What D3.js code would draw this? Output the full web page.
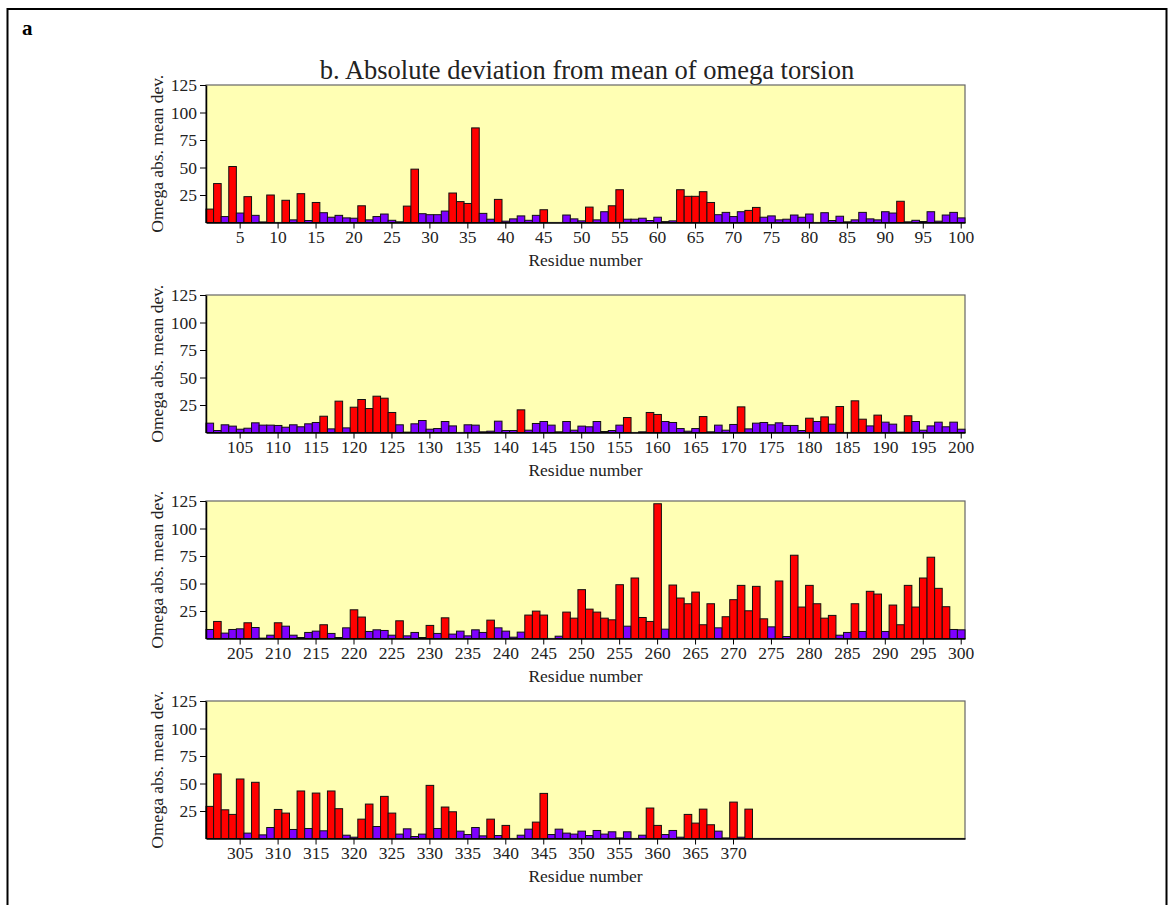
<!DOCTYPE html>
<html><head><meta charset="utf-8">
<script src="https://cdn.jsdelivr.net/npm/d3@7"></script>
<style>body{margin:0;background:#fff}svg text{font-family:"Liberation Serif","Times New Roman",serif}</style>
</head><body><svg id="c" width="1174" height="905"></svg>
<script>
// ---- data ----
const panelStarts = [1, 101, 201, 301];
const omega001to100 = [12.2,35.4,5.4,50.9,8.6,23.5,6.5,0.5,25,0,20.2,2.4,26.2,1.8,18.2,8.9,4.8,6.5,4.2,3.9,
 15.2,2.4,5.4,7.7,2,0.6,14.9,48.5,8,7.1,7.1,10.4,26.8,19,17.3,86,8.3,3,21,1.2,
 3.3,6,2,6.5,11.6,0,0,6.8,3.3,1.5,14,2.4,9.8,15.2,29.8,3,3,3.9,1.8,4.8,
 0.8,1.5,29.8,23.8,23.8,28,18.2,7.1,9.2,5.4,9.8,11,13.7,4.8,6,2.4,3,6.8,4.8,7.7,
 0,8.9,1.8,5.7,0.6,2.4,9.2,3.3,2.4,9.8,8.6,19.3,0.6,2,0.9,9.8,1.2,6.8,9.2,4.2];
const omega101to200 = [8.5,1.8,7,5.8,3,3.9,8.8,6.7,6.7,6.4,4.8,7,5.2,7.9,9.1,14.8,3.3,28.5,4.2,23,
 30,21.8,33,31.2,18.2,7,0.3,7.9,10.9,3,3.6,10,6,0,7,6.7,0.6,1.2,10.3,1.8,
 1.8,20.6,2.1,8.2,10,6.7,0.6,10,2.1,5.8,5.2,10,0.9,1.8,6.7,13.6,0,0.6,18.2,16.4,
 10,9.1,3.6,1.2,3.6,14.5,0.6,6.7,2.1,7.3,23.3,3.3,8.5,9.1,7,8.8,6.4,6.4,1.8,13,
 10,14.2,7.6,23.6,0,28.8,12.1,6,15.8,9.4,7.6,0.3,15.2,10,2.1,6,9.4,5.2,9.4,3];
const omega201to300 = [8.2,15.5,4.9,8.2,8.8,14.3,10,0.3,3,14.3,11.2,3,0.9,5.5,6.7,12.5,4.6,0.9,9.7,26.1,
 19.5,6.4,7.9,7.3,3,16.1,2.4,5.5,0.9,11.9,4.6,18.8,4,6.7,2.4,7.9,5.5,16.7,9.7,6.7,
 1.2,5.8,21.3,24.9,21.3,0,2.1,24,18.5,44.4,26.7,24,18.5,17,48.9,11.2,55,19.1,15.5,122.5,
 8.5,48.6,36.8,31.6,42.2,12.5,31.6,9.7,19.8,35.3,48.3,25.2,47.4,17.9,10.6,52.3,1.8,75.7,28.6,48.3,
 31.6,18.5,21,3,5.5,31.6,6.4,42.9,40.4,6.4,30.4,12.5,48.3,28.6,55,73.9,45.6,28.9,8.2,7.9];
const omega301to372 = [29.2,58.7,26.1,21.9,54.1,4.9,51.1,3.3,10,26.4,23.1,8.2,43.2,9.1,41.3,7,43.2,27.1,3,1.2,
 17.6,31.3,10.9,38.3,23.1,4,8.8,1.8,4,48.3,9.1,28.6,24.3,6.7,3.6,10,2.4,17.6,2.7,11.9,
 0,3,8.5,14.9,41,3.6,8.5,4.9,4,6.7,2.7,7.3,4,6.1,0.5,6.1,0,3,27.7,11.9,
 3.6,7.3,1.2,21.9,14,26.7,12.5,6.7,0.5,33.1,1.2,26.7];
const redResidues = [1,2,4,6,9,11,13,15,21,27,28,33,34,35,36,39,45,51,54,55,63,64,65,66,67,72,73,92,
 116,118,120,121,122,123,124,125,142,156,159,160,166,171,180,182,184,186,187,189,193,
 202,206,210,216,220,221,226,230,232,238,243,244,245,248,249,250,251,252,253,254,255,257,258,259,260,
 262,263,264,265,266,267,269,270,271,272,273,274,276,278,279,280,281,282,283,286,288,289,291,292,293,294,295,296,297,298,
 301,302,303,304,305,307,310,311,313,315,317,318,321,322,324,325,330,332,333,338,340,344,345,359,360,364,365,366,367,370,372];
const yTicks = [25, 50, 75, 100, 125];
const lastTickResidue = [100, 200, 300, 370];
const titleText = "b. Absolute deviation from mean of omega torsion";
const yLabel = "Omega abs. mean dev.";
const xLabel = "Residue number";

// ---- drawing ----
const svg = d3.select("#c");
const panelValues = [omega001to100, omega101to200, omega201to300, omega301to372];
const panelTops = [85, 295, 501, 701];
const plotH = 137.5, plotL = 206, plotR = 965;
const redSet = new Set(redResidues);
const txt = "#222";

svg.append("rect").attr("x",7.5).attr("y",9).attr("width",1159).attr("height",900)
  .attr("fill","none").attr("stroke","#000").attr("stroke-width",2);
svg.append("text").attr("x",22).attr("y",35).attr("font-size",21).attr("font-weight","bold").attr("fill","#000").text("a");
svg.append("text").attr("x",587).attr("y",79).attr("text-anchor","middle").attr("font-size",26.5).attr("fill",txt).text(titleText);

panelStarts.forEach((start, p) => {
  const top = panelTops[p], bottom = top + plotH;
  const residues = d3.range(start, start + 100);
  const x = d3.scaleBand().domain(residues).range([plotL, plotR]).paddingInner(0).paddingOuter(0);
  const y = d3.scaleLinear().domain([0, 125]).range([bottom, top]);
  const g = svg.append("g");
  g.append("rect").attr("x",plotL).attr("y",top).attr("width",plotR-plotL).attr("height",plotH)
    .attr("fill","#ffffb4").attr("stroke","#666").attr("stroke-width",1.2);
  const data = panelValues[p].map((v,i)=>({r:start+i, v}));
  g.selectAll("rect.bar").data(data).enter().append("rect").attr("class","bar")
    .attr("x", d=>x(d.r)).attr("width", x.bandwidth())
    .attr("y", d=>y(d.v)).attr("height", d=>bottom - y(d.v))
    .attr("fill", d=>redSet.has(d.r) ? "#ff0000" : "#7f00ff")
    .attr("stroke","#111").attr("stroke-width",1);
  const xa = g.append("g").attr("transform",`translate(0,${bottom})`)
    .call(d3.axisBottom(x).tickValues(residues.filter(r=>r%5===0 && r<=lastTickResidue[p])).tickSize(6).tickPadding(2).tickSizeOuter(0));
  const ya = g.append("g").attr("transform",`translate(${plotL},0)`)
    .call(d3.axisLeft(y).tickValues(yTicks).tickSize(6).tickPadding(3).tickSizeOuter(0));
  [xa, ya].forEach(a=>{
    a.selectAll("text").attr("font-size",17.5).attr("fill",txt).attr("font-family","Liberation Serif, serif");
    a.select(".domain").attr("stroke","#000").attr("stroke-width",1.5);
    a.selectAll(".tick line").attr("stroke","#000");
  });
  g.append("text").attr("x",(plotL+plotR)/2).attr("y",bottom+43).attr("text-anchor","middle")
    .attr("font-size",17.5).attr("fill",txt).text(xLabel);
  g.append("text").attr("transform",`translate(163,${top+plotH/2}) rotate(-90)`).attr("text-anchor","middle")
    .attr("font-size",17.5).attr("fill",txt).text(yLabel);
});
</script></body></html>
